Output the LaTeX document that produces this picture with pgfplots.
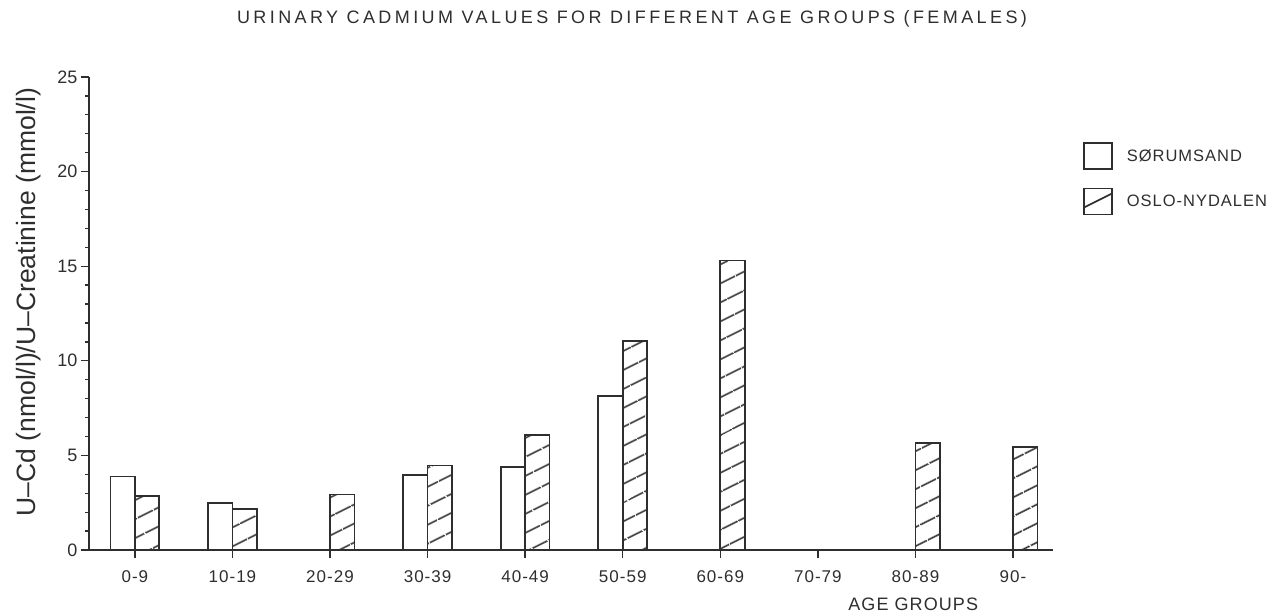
\documentclass[border=0pt]{standalone}
\usepackage{fontspec}
\setmainfont{Liberation Sans}
\newfontfamily\plotfont[LetterSpace=19]{Liberation Sans}
\newfontfamily\tickfont[LetterSpace=6]{Liberation Sans}
\usepackage{pgfplots}
\pgfplotsset{compat=1.18}
\usetikzlibrary{patterns.meta}
\definecolor{ink}{HTML}{2E2E2E}

\begin{document}
\begin{tikzpicture}[x=1pt,y=1pt]
\path[use as bounding box] (0,0) rectangle (1274,613);
\begin{axis}[
  at={(89pt,63pt)}, anchor=south west,
  scale only axis, width=964pt, height=473pt,
  xmin=-0.47, xmax=9.41, ymin=0, ymax=25,
  axis x line*=bottom, axis y line*=left,
  axis line style={ink, line width=1.8pt},
  xtick={0,...,9},
  xticklabels={0-9,10-19,20-29,30-39,40-49,50-59,60-69,70-79,80-89,90-},
  ytick={0,5,10,15,20,25},
  yticklabels={0,5,10,15,20,25},
  minor ytick={1,2,3,4,6,7,8,9,11,12,13,14,16,17,18,19,21,22,23,24},
  tick align=outside, major tick length=8pt, minor tick length=4pt,
  tick style={ink, line width=1.3pt},
  xticklabel style={font=\tickfont\fontsize{17}{17}\selectfont, text=ink, yshift=-9pt},
  yticklabel style={font=\fontsize{18}{18}\selectfont, text=ink},
  ylabel={U--Cd (nmol/l)/U--Creatinine (mmol/l)},
  ylabel style={font=\fontsize{26.5}{26.5}\selectfont, text=ink,
    at={(axis description cs:-0.063,0.524)}, anchor=center},
  xlabel={AGE GROUPS},
  xlabel style={font=\tickfont\fontsize{18}{18}\selectfont, text=ink,
    at={(axis description cs:0.855,0)}, anchor=north, yshift=-44pt},
  title={URINARY CADMIUM VALUES FOR DIFFERENT AGE GROUPS (FEMALES)},
  title style={font=\plotfont\fontsize{18}{18}\selectfont, text=ink,
    at={(axis description cs:0.5633,1.11)}, anchor=center},
  legend style={at={(axis description cs:1.028,0.867)}, anchor=north west,
    draw=none, fill=none, font=\tickfont\fontsize{16.5}{16.5}\selectfont,
    text=ink, row sep=18pt},
  legend cell align=left,
  clip=false,
]
\addplot[ybar, bar width=24.4pt, bar shift=-12.2pt, draw=ink, fill=white,
  line width=1.7pt,
  legend image code/.code={\draw[ink, line width=1.6pt, fill=white] (0pt,-13pt) rectangle (28pt,13pt);}]
  coordinates {(0,3.88) (1,2.5) (3,3.98) (4,4.38) (5,8.15)};
\addlegendentry{\hspace*{12pt}SØRUMSAND}
\addplot[ybar, bar width=24.4pt, bar shift=12.2pt, draw=ink,
  pattern={Lines[angle=26.57, distance=17.4pt, line width=1.8pt]}, pattern color=ink,
  line width=1.7pt,
  legend image code/.code={\draw[ink, line width=1.6pt, fill=white] (0pt,-13pt) rectangle (28pt,13pt);
    \draw[ink, line width=1.6pt] (0pt,-6pt) -- (28pt,8pt);}]
  coordinates {(0,2.87) (1,2.15) (2,2.93) (3,4.46) (4,6.08) (5,11.05) (6,15.3) (8,5.65) (9,5.43)};
\addlegendentry{\hspace*{12pt}OSLO-NYDALEN}
\end{axis}
\end{tikzpicture}
\end{document}
